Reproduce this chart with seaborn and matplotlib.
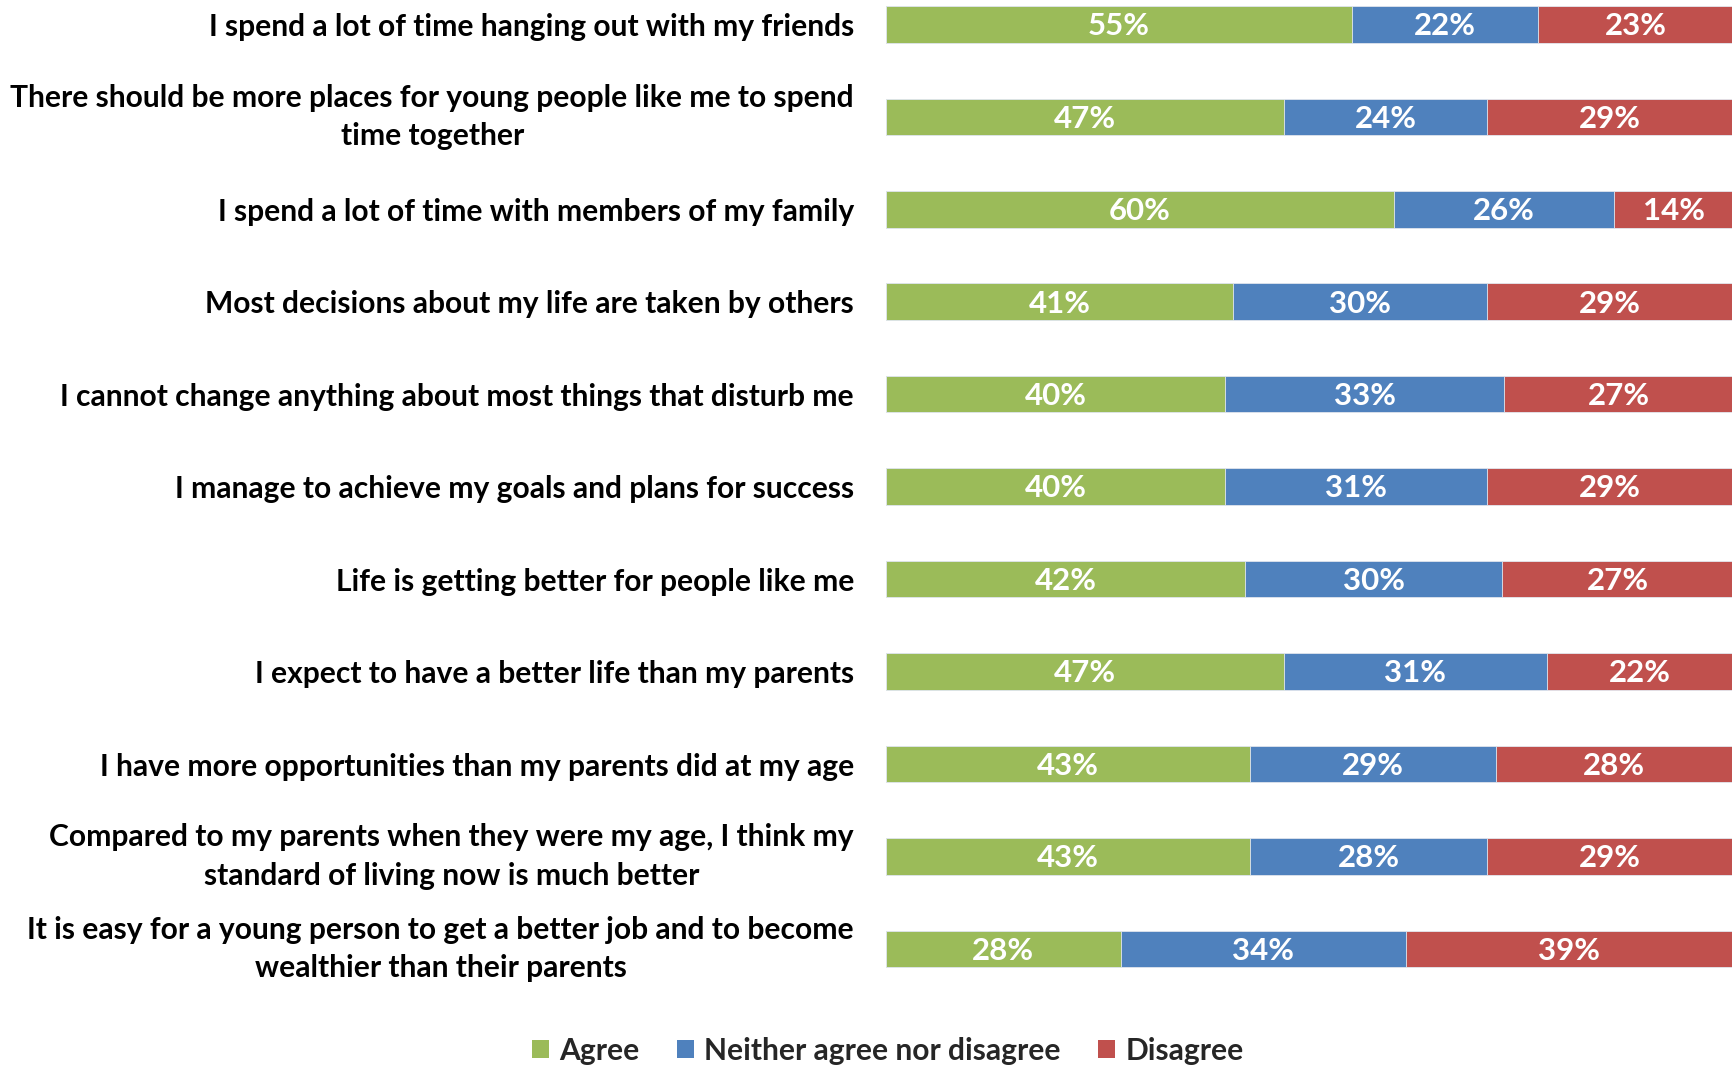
import matplotlib
matplotlib.use("Agg")
import matplotlib.pyplot as plt
import seaborn as sns
import pandas as pd
import numpy as np
from matplotlib.patches import Patch

statements = [
    "I spend a lot of time hanging out with my friends",
    "There should be more places for young people like me to spend\ntime together",
    "I spend a lot of time with members of my family",
    "Most decisions about my life are taken by others",
    "I cannot change anything about most things that disturb me",
    "I manage to achieve my goals and plans for success",
    "Life is getting better for people like me",
    "I expect to have a better life than my parents",
    "I have more opportunities than my parents did at my age",
    "Compared to my parents when they were my age, I think my\nstandard of living now is much better",
    "It is easy for a young person to get a better job and to become\nwealthier than their parents",
]
agree = [55, 47, 60, 41, 40, 40, 42, 47, 43, 43, 28]
neither = [22, 24, 26, 30, 33, 31, 30, 31, 29, 28, 34]
disagree = [23, 29, 14, 29, 27, 29, 27, 22, 28, 29, 39]

series_names = ["Agree", "Neither agree nor disagree", "Disagree"]
colors = ["#9BBB59", "#4F81BD", "#C0504D"]

FONT = "Lato"
sns.set_theme(style="white")
plt.rcParams["font.family"] = [FONT, "DejaVu Sans"]

df = pd.DataFrame({"statement": statements, "Agree": agree,
                   "Neither agree nor disagree": neither, "Disagree": disagree})
vals = df[series_names].to_numpy(dtype=float)
shares = vals / vals.sum(axis=1, keepdims=True) * 100  # 100% stacked
cum = np.cumsum(shares, axis=1)

fig = plt.figure(figsize=(17.33, 10.68), dpi=100)
W, H = 1733, 1068
ax_left, ax_right = 886 / W, 1.0
ax_top, ax_bottom = 1.0, 1 - 1000 / H
ax = fig.add_axes([ax_left, ax_bottom, ax_right - ax_left, ax_top - ax_bottom])

bar_h = 0.395
# overlay cumulative bars from the widest to the narrowest so they read as stacked
for k in range(2, -1, -1):
    plot_df = pd.DataFrame({"statement": statements, "value": cum[:, k]})
    sns.barplot(data=plot_df, x="value", y="statement", orient="h",
                color=colors[k], width=bar_h, saturation=1, ax=ax,
                edgecolor="#e3e8f0", linewidth=0.6)

# segment labels
for i in range(len(statements)):
    start = 0
    for k in range(3):
        mid = start + shares[i, k] / 2
        ax.text(mid, i + 0.02, f"{int(vals[i, k])}%", ha="center", va="center",
                color="white", fontsize=22.5, fontweight="bold", family=[FONT, "DejaVu Sans"])
        start += shares[i, k]

row_px = 92.47
first_px = 24.3
top_idx = -first_px / row_px
bot_idx = (1000 - first_px) / row_px
ax.set_xlim(0, 100)
ax.set_ylim(bot_idx, top_idx)
ax.set_xlabel("")
ax.set_ylabel("")
ax.set_xticks([])
for s in ax.spines.values():
    s.set_visible(False)
ax.tick_params(axis="y", length=0, pad=23)
for lab in ax.get_yticklabels():
    lab.set_fontsize(21.6)
    lab.set_fontweight("bold")
    lab.set_color("black")
    lab.set_multialignment("center")
    lab.set_linespacing(1.45)
    if "\n" in lab.get_text():
        lab.set_verticalalignment("center")

handles = [Patch(facecolor=c, edgecolor="none", label=n) for c, n in zip(colors, series_names)]
fig.legend(handles=handles, loc="center", bbox_to_anchor=(888 / W, 1 - 1051 / H),
           ncol=3, frameon=False, prop={"weight": "bold", "size": 21.6},
           handlelength=0.55, handleheight=0.55, handletextpad=0.35, columnspacing=1.25)

fig.savefig("out.png", dpi=100)
